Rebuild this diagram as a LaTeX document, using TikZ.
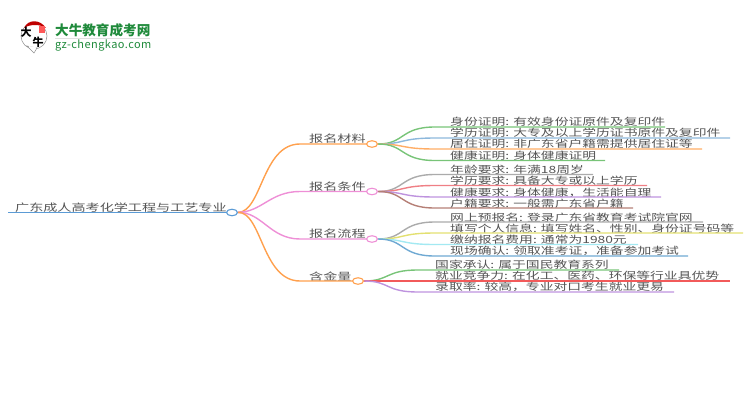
\documentclass[tikz,border=0pt]{standalone}
\usepackage{fontspec}
\setmainfont{Noto Sans CJK SC}
\usetikzlibrary{shapes.geometric}
\definecolor{txtgrey}{HTML}{555555}
\definecolor{rootblue}{HTML}{5B9BD5}
\definecolor{brorange}{HTML}{FFA04D}
\definecolor{brpink}{HTML}{EE8FD6}
\definecolor{lfgreen}{HTML}{78C478}
\definecolor{lfblue}{HTML}{8DB8DC}
\definecolor{lforange}{HTML}{FFAD66}
\definecolor{lfgrey}{HTML}{ABABAB}
\definecolor{lfred}{HTML}{EF7F85}
\definecolor{lfpurple}{HTML}{BE93DE}
\definecolor{lfbrown}{HTML}{B57F76}
\definecolor{lfyellow}{HTML}{E3E071}
\definecolor{lfcyan}{HTML}{A3E9F2}
\definecolor{lfdeep}{HTML}{6FA9D3}
\definecolor{lfred2}{HTML}{F25A5A}
\definecolor{logogreen}{HTML}{1F8A3B}
\tikzset{
  label/.style={anchor=west,inner sep=0pt,text=txtgrey,transform shape,yscale=.72,font=\fontsize{13.8}{14}\selectfont},
  bigtxt/.style={label,font=\fontsize{14.1}{15}\selectfont},
  hub/.style={draw,ellipse,fill=white,line width=1.1pt,minimum width=11pt,minimum height=6.5pt,inner sep=0pt},
  link/.style={line width=1.4pt},
}
\begin{document}
\begin{tikzpicture}[x=1pt,y=-1pt]
  \useasboundingbox (0,0) rectangle (750,410);
  % logo
  \fill[white,draw=black!45,line width=.5pt] (34,36) circle (13);
  \fill[white,draw=black!45,line width=.5pt] (27,46) -- (34,53) -- (37,48) -- cycle;
  \fill[white] (28.5,46) -- (34,51.5) -- (36,47) -- cycle;
  \fill[red!75!black] (24,28) .. controls (28,19) and (40,19) .. (46,28) .. controls (40,24) and (30,24) .. (24,28) -- cycle;
  \fill[red!65] (39,26) rectangle (45,33);
  \node[inner sep=0pt] at (26,32) (logoa) {\fontsize{11}{11}\selectfont\bfseries 大};
  \node[inner sep=0pt] at (38,42) (logob) {\fontsize{11}{11}\selectfont\bfseries 牛};
  \node[anchor=west,inner sep=0pt,text=logogreen] at (55,30.5) (logoname) {\fontsize{13.6}{14}\selectfont\bfseries 大牛教育成考网};
  \fill[black!12] (55,38) rectangle (150,39);
  \node[anchor=west,inner sep=0pt,text=logogreen] at (55,45) (logourl) {\fontsize{11}{12}\selectfont\addfontfeature{LetterSpace=4} gz-chengkao.com};
  % texts of the centre and the branches
  \node[bigtxt] at (15,207.5) (roottxt) {广东成人高考化学工程与工艺专业};
  \node[bigtxt] at (309,139) (cltxt) {报名材料};
  \node[bigtxt] at (309,187) (tjtxt) {报名条件};
  \node[bigtxt] at (309,234) (lctxt) {报名流程};
  \node[bigtxt] at (309,276.5) (hjtxt) {含金量};
  % hubs
  \coordinate (roots) at (8,212.5);
  \node[hub,draw=rootblue] at (232,212.5) (root) {};
  \node[hub,draw=brorange] at (372,144) (cl) {};
  \node[hub,draw=brpink] at (372,191.5) (tj) {};
  \node[hub,draw=brpink] at (372,239) (lc) {};
  \node[hub,draw=brorange] at (358,281) (hj) {};
  % leaves
  \node[label] at (450,122) (a1) {身份证明: 有效身份证原件及复印件};
  \node[label] at (450,133) (a2) {学历证明: 大专及以上学历证书原件及复印件};
  \node[label] at (450,144) (a3) {居住证明: 非广东省户籍需提供居住证等};
  \node[label] at (450,155.5) (a4) {健康证明: 身体健康证明};
  \node[label] at (450,170) (b1) {年龄要求: 年满18周岁};
  \node[label] at (450,181) (b2) {学历要求: 具备大专或以上学历};
  \node[label] at (450,192.5) (b3) {健康要求: 身体健康，生活能自理};
  \node[label] at (450,203.5) (b4) {户籍要求: 一般需广东省户籍};
  \node[label] at (450,217.5) (c1) {网上预报名: 登录广东省教育考试院官网};
  \node[label] at (450,228.5) (c2) {填写个人信息: 填写姓名、性别、身份证号码等};
  \node[label] at (450,239.5) (c3) {缴纳报名费用: 通常为1980元};
  \node[label] at (450,251) (c4) {现场确认: 领取准考证，准备参加考试};
  \node[label] at (435,265) (d1) {国家承认: 属于国民教育系列};
  \node[label] at (435,276) (d2) {就业竞争力: 在化工、医药、环保等行业具优势};
  \node[label] at (435,287) (d3) {录取率: 较高，专业对口考生就业更易};
  % ends of the underlines
  \coordinate (a1e) at (665,127);
  \coordinate (a2e) at (730,138);
  \coordinate (a3e) at (702,149);
  \coordinate (a4e) at (605,160.5);
  \coordinate (b1e) at (593,174.5);
  \coordinate (b2e) at (647,185.5);
  \coordinate (b3e) at (661,197);
  \coordinate (b4e) at (633,208);
  \coordinate (c1e) at (703,222);
  \coordinate (c2e) at (743,233);
  \coordinate (c3e) at (638,244.5);
  \coordinate (c4e) at (688,256);
  \coordinate (d1e) at (619,270);
  \coordinate (d2e) at (730,281);
  \coordinate (d3e) at (674,292);
  % connectors
  \draw[link,rootblue] (roots) -- (root);
  \draw[link,brorange] (root) .. controls (262,212) and (262,144) .. (300,144) -- (cl);
  \draw[link,brpink] (root) .. controls (262,212) and (270,191.5) .. (300,191.5) -- (tj);
  \draw[link,brpink] (root) .. controls (262,212) and (270,239) .. (300,239) -- (lc);
  \draw[link,brorange] (root) .. controls (262,212) and (262,281) .. (300,281) -- (hj);
  \draw[link,lfgreen] (cl) .. controls (405,144) and (400,127) .. (435,127) -- (a1e);
  \draw[link,lfblue] (cl) .. controls (405,144) and (400,138) .. (435,138) -- (a2e);
  \draw[link,lforange] (cl) .. controls (405,144) and (400,149) .. (435,149) -- (a3e);
  \draw[link,lfgreen] (cl) .. controls (405,144) and (400,160.5) .. (435,160.5) -- (a4e);
  \draw[link,lfgrey] (tj) .. controls (405,191.5) and (400,174.5) .. (435,174.5) -- (b1e);
  \draw[link,lfred] (tj) .. controls (405,191.5) and (400,185.5) .. (435,185.5) -- (b2e);
  \draw[link,lfpurple] (tj) .. controls (405,191.5) and (400,197) .. (435,197) -- (b3e);
  \draw[link,lfbrown] (tj) .. controls (405,191.5) and (400,208) .. (435,208) -- (b4e);
  \draw[link,lfgrey] (lc) .. controls (405,239) and (400,222) .. (435,222) -- (c1e);
  \draw[link,lfyellow] (lc) .. controls (405,239) and (400,233) .. (435,233) -- (c2e);
  \draw[link,lfcyan] (lc) .. controls (405,239) and (400,244.5) .. (435,244.5) -- (c3e);
  \draw[link,lfdeep] (lc) .. controls (405,239) and (400,256) .. (435,256) -- (c4e);
  \draw[link,lfgreen] (hj) .. controls (390,281) and (385,270) .. (418,270) -- (d1e);
  \draw[link,lfred2] (hj) -- (d2e);
  \draw[link,lfpurple] (hj) .. controls (390,281) and (385,292) .. (418,292) -- (d3e);
\end{tikzpicture}
\end{document}
